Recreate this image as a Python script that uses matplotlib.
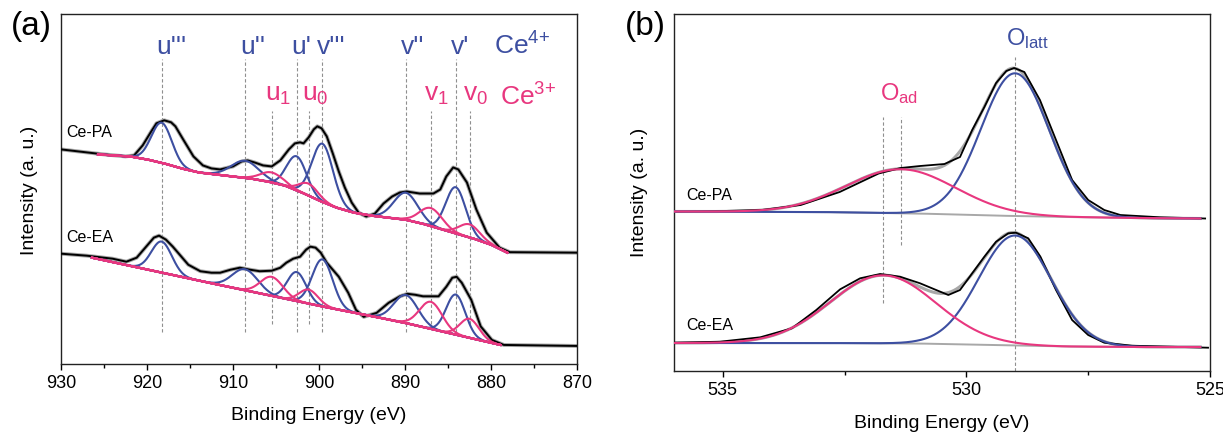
import numpy as np
import matplotlib
matplotlib.use("Agg")
import matplotlib.pyplot as plt
from matplotlib.ticker import MultipleLocator

plt.rcParams['font.family'] = ['Liberation Sans', 'DejaVu Sans']
plt.rcParams['mathtext.fontset'] = 'custom'
plt.rcParams['mathtext.rm'] = 'Liberation Sans'
plt.rcParams['mathtext.it'] = 'Liberation Sans:italic'
plt.rcParams['mathtext.sf'] = 'Liberation Sans'

BLUE = '#3d4fa1'
PINK = '#e8377f'
GRAY = '#a8a8a8'
DASH = '#8f8f8f'

# ================= panel (a): Ce 3d =================
ce4_labels = ["u'''", "u''", "u'", "v'''", "v''", "v'"]
ce4_energy = [918.3, 908.6, 902.6, 899.6, 889.9, 884.1]
ce3_labels = ['u$_1$', 'u$_0$', 'v$_1$', 'v$_0$']
ce3_energy = [905.5, 901.2, 887.0, 882.5]

# Ce-PA
pa_raw_energy = [930, 927, 925, 922.5, 921.5, 920.5, 919.5, 918.9, 918.0, 917.2, 916.7, 915.8,
                 914.6, 913.5, 912.5, 911.5, 910, 909, 908.3, 907.5, 906.5, 905.5, 904.5, 903.5,
                 902.8, 902.2, 901.8, 901.2, 900.6, 900.2, 899.7, 899.1, 898.4, 897.7, 897.0,
                 896.2, 895.4, 894.5, 893.5, 892.5, 891.5, 890.6, 889.8, 888.3, 886.7, 885.9,
                 885.2, 884.4, 883.8, 882.8, 881.7, 880.5, 879.0, 877.8, 870]
pa_raw_int = [214, 211, 209, 207, 208, 218, 232, 240, 243, 241, 237, 224,
              207, 198, 195, 194, 197, 202, 203, 201, 198, 197, 203, 214,
              220, 221, 220, 226, 234, 237, 235, 227, 210, 192, 176,
              161, 151, 147, 150, 160, 167, 171, 172, 170, 170, 174,
              187, 196, 194, 181, 154, 131, 116, 111.5, 111]
pa_bg_energy = [925.7, 922, 920, 918, 916, 914, 912, 910, 908, 906, 904, 902, 900, 898,
                896, 894, 892, 890, 888, 886, 884, 882, 880, 878.1]
pa_bg_int = [209, 207, 204, 200, 195, 191, 189, 187, 185, 182, 178, 171, 163, 156,
             151, 148, 146, 144, 140, 135, 130, 125, 119, 111]
pa_ce4_height = [40, 17, 34, 58, 27, 46]
pa_ce4_fwhm = [2.8, 3.8, 2.7, 2.9, 3.3, 2.7]
pa_ce3_height = [10, 12, 18, 13]
pa_ce3_fwhm = [3.1, 2.6, 3.1, 2.8]

# Ce-EA
ea_raw_energy = [930, 927, 924, 922.4, 921.2, 920.2, 919.2, 918.6, 917.8, 917, 916, 915.2,
                 913.8, 912.5, 911.5, 910.3, 909.2, 908, 906.9, 905.5, 904.5, 903.8, 903,
                 902.2, 901.5, 901, 900.4, 899.8, 899.1, 897.7, 896.6, 895.7, 894.8, 893.3,
                 891.9, 890.6, 889.7, 888.8, 887.9, 886.1, 885.2, 884.5, 884, 883.4, 882.3,
                 881.2, 879.9, 878.5, 870]
ea_raw_int = [110, 108, 105, 102, 106, 116, 126, 128, 124, 117, 107, 99,
              92.5, 91, 91, 94, 96, 94, 92.5, 93, 96, 101, 105,
              107, 114, 117, 116, 111, 101, 87, 71, 54, 47, 51,
              61, 67.5, 70, 69, 67.5, 67.5, 77, 86, 87, 81, 64,
              37.5, 24, 19, 18]
ea_bg_energy = [926.4, 915, 905, 900, 894, 890, 885, 878.9]
ea_bg_int = [106, 85, 67, 58, 48, 41, 31, 19]
ea_ce4_height = [31, 21, 29, 47, 28, 40]
ea_ce4_fwhm = [2.8, 3.5, 2.6, 2.8, 3.3, 2.6]
ea_ce3_height = [19, 14, 27, 19]
ea_ce3_fwhm = [3.1, 2.6, 3.1, 2.6]

# ================= panel (b): O 1s =================
o_labels = ['O$_{\\mathrm{ad}}$', 'O$_{\\mathrm{latt}}$']
o_ad_energy = [531.71, 531.34]   # Ce-EA, Ce-PA
o_latt_energy = 529.0

bpa_raw_energy = [536, 535, 534.2, 533.4, 532.6, 531.8, 531.35, 530.95, 530.45, 530.13, 529.88,
                  529.63, 529.39, 529.18, 529.02, 528.81, 528.49, 528.16, 527.83, 527.5, 527.17,
                  526.84, 526.02, 525.1]
bpa_raw_int = [159.3, 160, 161, 166, 179, 197.5, 203, 205, 207, 214, 241,
               264, 288, 300, 303, 299, 271, 231, 191, 171, 161,
               156, 153.7, 152.5]
bpa_bg_energy = [536, 533, 531, 529.5, 528, 526.5, 525.2]
bpa_bg_int = [159.5, 159, 157.5, 155.5, 154, 153, 152.5]
bpa_height = [44, 142.7]     # O_ad, O_latt
bpa_fwhm = [2.64, 1.65]

bea_raw_energy = [536, 535.06, 534.23, 533.58, 533.08, 532.59, 532.18, 531.77, 531.36, 530.95,
                  530.62, 530.37, 530.13, 529.88, 529.63, 529.39, 529.14, 528.98, 528.73, 528.48,
                  528.16, 527.83, 527.5, 527.17, 526.6, 525.04]
bea_raw_int = [28.3, 29.3, 33.7, 42.7, 61, 81.7, 92.7, 97, 94.3, 87.7,
               81, 76, 81, 97.7, 114.3, 129.3, 137.7, 138.3, 132.7, 114.3,
               81, 51, 36, 28.3, 25.3, 23.3]
bea_bg_energy = [536, 533, 531, 529.5, 528, 526.5, 525.2]
bea_bg_int = [28, 28, 27.5, 26, 24.5, 24, 24]
bea_height = [68, 110]
bea_fwhm = [2.54, 1.75]


def gauss(x, c, h, fwhm):
    return h * np.exp(-4 * np.log(2) * (x - c) ** 2 / fwhm ** 2)


def background(bg_e, bg_i, n=800):
    e = np.linspace(bg_e[0], bg_e[-1], n)
    order = np.argsort(bg_e)
    b = np.interp(e, np.asarray(bg_e)[order], np.asarray(bg_i)[order])
    return e, b


W, H = 1223, 433
fig = plt.figure(figsize=(W / 100, H / 100), dpi=100)


def fx(px):
    return px / W


def fy(py):
    return 1 - py / H


axa = fig.add_axes([fx(61), fy(364), fx(577) - fx(61), fy(14) - fy(364)])
axb = fig.add_axes([fx(674), fy(371), fx(1210) - fx(674), fy(14) - fy(371)])

for ax in (axa, axb):
    for s in ax.spines.values():
        s.set_linewidth(1.0)
        s.set_color('#222222')
    ax.set_yticks([])
    ax.tick_params(axis='x', which='major', direction='out', length=4.5, width=1.0,
                   labelsize=13, pad=3.5, top=False)
    ax.tick_params(axis='x', which='minor', direction='out', length=3, width=1.0, top=False)

# ---------- panel (a) ----------
axa.set_xlim(930, 870)
axa.set_ylim(0, 349)
axa.xaxis.set_major_locator(MultipleLocator(10))
axa.xaxis.set_minor_locator(MultipleLocator(5))

dash = (0, (3, 2))
axa.vlines(ce4_energy, 32, 304, colors=DASH, linestyles=dash, lw=0.8, zorder=0)
axa.vlines(ce3_energy, 40, 252, colors=DASH, linestyles=dash, lw=0.8, zorder=0)

for raw_e, raw_i, bg_e, bg_i, h4, w4, h3, w3 in [
        (pa_raw_energy, pa_raw_int, pa_bg_energy, pa_bg_int,
         pa_ce4_height, pa_ce4_fwhm, pa_ce3_height, pa_ce3_fwhm),
        (ea_raw_energy, ea_raw_int, ea_bg_energy, ea_bg_int,
         ea_ce4_height, ea_ce4_fwhm, ea_ce3_height, ea_ce3_fwhm)]:
    axa.plot(raw_e, raw_i, color=GRAY, lw=2.8, zorder=2, solid_joinstyle='round')
    axa.plot(raw_e, raw_i, color='black', lw=1.4, zorder=3, solid_joinstyle='round')
    e, b = background(bg_e, bg_i)
    for c, h, w in zip(ce4_energy, h4, w4):
        axa.plot(e, b + gauss(e, c, h, w), color=BLUE, lw=1.5, zorder=4)
    for c, h, w in zip(ce3_energy, h3, w3):
        axa.plot(e, b + gauss(e, c, h, w), color=PINK, lw=1.5, zorder=5)
    axa.plot(e, b, color=PINK, lw=1.7, zorder=6)

for c, lab in zip(ce4_energy, ce4_labels):
    axa.text(c + 0.6, 309, lab, color=BLUE, fontsize=19, ha='left', va='baseline')
for c, lab in zip(ce3_energy, ce3_labels):
    axa.text(c + 0.8, 262, lab, color=PINK, fontsize=19, ha='left', va='baseline')
axa.text(879.6, 309, 'Ce$^{4{+}}$', color=BLUE, fontsize=19, ha='left', va='baseline')
axa.text(879.0, 258, 'Ce$^{3{+}}$', color=PINK, fontsize=19, ha='left', va='baseline')

axa.text(929.4, 231, 'Ce-PA', fontsize=11.5, ha='left', va='center')
axa.text(929.4, 126, 'Ce-EA', fontsize=11.5, ha='left', va='center')

# ---------- panel (b) ----------
axb.set_xlim(536, 525)
axb.set_ylim(0, 357)
axb.xaxis.set_major_locator(MultipleLocator(5))
axb.xaxis.set_minor_locator(MultipleLocator(2.5))

axb.vlines([o_latt_energy], 0, 314, colors=DASH, linestyles=dash, lw=0.8, zorder=0)
axb.vlines([o_ad_energy[0]], 68, 254, colors=DASH, linestyles=dash, lw=0.8, zorder=0)
axb.vlines([o_ad_energy[1]], 126, 254, colors=DASH, linestyles=dash, lw=0.8, zorder=0)

for raw_e, raw_i, bg_e, bg_i, hh, ww, cad in [
        (bpa_raw_energy, bpa_raw_int, bpa_bg_energy, bpa_bg_int, bpa_height, bpa_fwhm, o_ad_energy[1]),
        (bea_raw_energy, bea_raw_int, bea_bg_energy, bea_bg_int, bea_height, bea_fwhm, o_ad_energy[0])]:
    e, b = background(bg_e, bg_i)
    g_ad = gauss(e, cad, hh[0], ww[0])
    g_latt = gauss(e, o_latt_energy, hh[1], ww[1])
    axb.plot(e, b + g_ad + g_latt, color=GRAY, lw=2.2, zorder=2)
    axb.plot(raw_e, raw_i, color='black', lw=1.3, zorder=3, solid_joinstyle='round')
    axb.plot(e, b, color=GRAY, lw=1.4, zorder=3.5)
    axb.plot(e, b + g_latt, color=BLUE, lw=1.5, zorder=4)
    axb.plot(e, b + g_ad, color=PINK, lw=1.5, zorder=5)

axb.text(531.77, 271, o_labels[0], color=PINK, fontsize=17, ha='left', va='baseline')
axb.text(529.18, 326, o_labels[1], color=BLUE, fontsize=17, ha='left', va='baseline')
axb.text(535.75, 176, 'Ce-PA', fontsize=11.5, ha='left', va='center')
axb.text(535.75, 46, 'Ce-EA', fontsize=11.5, ha='left', va='center')

# ---------- labels ----------
fig.text(fx(319), fy(416), 'Binding Energy (eV)', fontsize=14, ha='center', va='center')
fig.text(fx(942), fy(424), 'Binding Energy (eV)', fontsize=14, ha='center', va='center')
fig.text(fx(30), fy(190), 'Intensity (a. u.)', fontsize=14, rotation=90, ha='center', va='center')
fig.text(fx(640), fy(192), 'Intensity (a. u.)', fontsize=14, rotation=90, ha='center', va='center')
fig.text(fx(31), fy(27), '(a)', fontsize=24, ha='center', va='center')
fig.text(fx(645), fy(27), '(b)', fontsize=24, ha='center', va='center')

fig.savefig('out.png', dpi=100)
